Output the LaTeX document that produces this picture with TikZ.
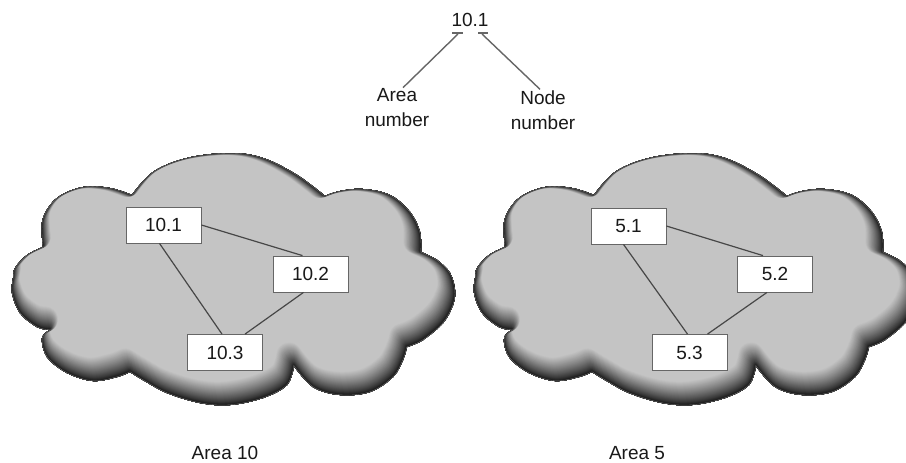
\documentclass[tikz,border=0pt]{standalone}
\usepackage{fontspec}
\setmainfont{Liberation Sans}
\usetikzlibrary{calc}
\definecolor{cloudlight}{gray}{0.77}
\newcommand\cloudpath{plot[smooth,tension=0.6] coordinates {(132,195) (153,172) (187,158) (230,153) (263,158) (297,175) (325,196)}
 -- plot[smooth,tension=0.6] coordinates {(325,196) (340,191) (363,189) (390,195) (410,212) (420,232) (421,252)}
 -- plot[smooth,tension=0.6] coordinates {(421,252) (437,260) (450,273) (455,290) (453,305) (443,323) (423,340) (407,347)}
 -- plot[smooth,tension=0.6] coordinates {(407,347) (403,360) (393,377) (370,392) (340,395) (313,387) (294,366)}
 -- plot[smooth,tension=0.6] coordinates {(294,366) (287,385) (263,398) (230,405) (200,403) (167,393) (143,380) (130,372)}
 -- plot[smooth,tension=0.6] coordinates {(130,372) (117,377) (93,381) (67,373) (47,357) (42,338) (50,330)}
 -- plot[smooth,tension=0.6] coordinates {(50,330) (37,327) (20,313) (12,293) (13,278) (15,268) (27,255) (43,247)}
 -- plot[smooth,tension=0.6] coordinates {(43,247) (42,238) (43,218) (57,198) (83,187) (110,188) (132,195)}
 -- cycle}
\newcommand\cloudshade{%
 \begin{scope}
 \clip \cloudpath;
 \fill[cloudlight] \cloudpath;
 \foreach \k in {48,47,...,1}{%
   \pgfmathsetmacro\ct{\k/48}%
   \pgfmathsetmacro\cg{0.06+0.71*(\ct)^0.8}%
   \definecolor{laycol}{gray}{\cg}%
   \pgfmathsetmacro\cw{26*\ct}%
   \pgfmathsetmacro\cdx{-5*\ct}%
   \pgfmathsetmacro\cdy{-11*\ct}%
   \draw[laycol, line width=\cw pt, line join=round, shift={(\cdx,\cdy)}] \cloudpath;
 }
 \draw[black!55, line width=0.8pt] \cloudpath;
 \end{scope}}
\tikzset{
  netbox/.style={draw=black!60, line width=0.8pt, fill=white, minimum width=75pt, minimum height=36pt, inner sep=0pt, font=\fontsize{19}{22}\selectfont, text=black!90},
  link/.style={draw=black!72, line width=1.2pt},
  lbl/.style={font=\fontsize{19}{25}\selectfont, text=black!90, align=center, inner sep=1pt},
  ptr/.style={draw=black!60, line width=1.4pt}
}
\begin{document}
\begin{tikzpicture}[x=1pt,y=-1pt]
\path[use as bounding box] (0,0) rectangle (906,463);
\clip (0,0) rectangle (906,463);
\fill[white] (0,0) rectangle (906,463);

% clouds
\cloudshade
\begin{scope}[xshift=462pt]
\cloudshade
\end{scope}

% top explanation
\node[lbl] (top) at (470,20) {10.1};
\node[lbl] (area) at (397,108) {Area\\number};
\node[lbl] (node) at (543,110) {Node\\number};
\coordinate (tkL1) at (452,33);
\coordinate (tkL2) at (463,33);
\coordinate (tkR1) at (478,33);
\coordinate (tkR2) at (488,33);
\coordinate (stL) at (458,34);
\coordinate (stR) at (482,34);
\draw[ptr] (tkL1) -- (tkL2);
\draw[ptr] (tkR1) -- (tkR2);
\draw[ptr] (stL) -- ([xshift=6pt]area.north);
\draw[ptr] (stR) -- ([xshift=-3pt]node.north);

% left area boxes
\node[netbox] (b101) at (163.5,225) {10.1};
\node[netbox] (b102) at (310.5,274) {10.2};
\node[netbox] (b103) at (225,352.5) {10.3};
\draw[link] (b101.east) -- ([xshift=-8pt]b102.north);
\draw[link] ([xshift=-4pt]b101.south) -- ([xshift=-3pt]b103.north);
\draw[link] ([xshift=-7pt]b102.south) -- ([xshift=20pt]b103.north);

% right area boxes
\node[netbox] (b51) at (628.5,226) {5.1};
\node[netbox] (b52) at (775,274) {5.2};
\node[netbox] (b53) at (689.5,352.5) {5.3};
\draw[link] (b51.east) -- ([xshift=-12pt]b52.north);
\draw[link] ([xshift=-5pt]b51.south) -- ([xshift=-2pt]b53.north);
\draw[link] ([xshift=-8pt]b52.south) -- ([xshift=18pt]b53.north);

% area labels
\node[lbl] (a10) at (225,453) {Area 10};
\node[lbl] (a5) at (637,453) {Area 5};
\end{tikzpicture}
\end{document}
